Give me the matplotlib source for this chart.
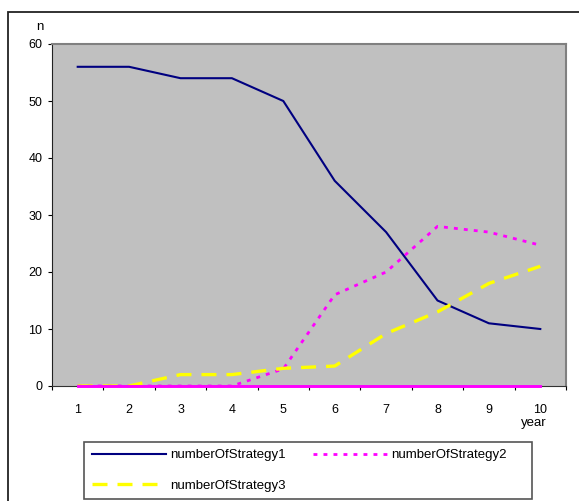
import matplotlib
matplotlib.use("Agg")
import matplotlib.pyplot as plt
from matplotlib.patches import Rectangle

plt.rcParams["font.family"] = ["Liberation Sans", "DejaVu Sans"]

years = [1, 2, 3, 4, 5, 6, 7, 8, 9, 10]
strategy1 = [56, 56, 54, 54, 50, 36, 27, 15, 11, 10]
strategy2 = [0, 0, 0, 0, 3, 16, 20, 28, 27, 24.7]
strategy3 = [0, 0, 2, 2, 3.1, 3.5, 9.2, 13, 18, 21]
strategy4 = [0, 0, 0, 0, 0, 0, 0, 0, 0, 0]
y_ticks = [0, 10, 20, 30, 40, 50, 60]

W, H = 579, 501
fig = plt.figure(figsize=(W / 100, H / 100), dpi=100)


def px_box(x0, y0, x1, y1):
    # pixel box (top-left origin) -> figure fraction [left, bottom, width, height]
    return [x0 / W, 1 - y1 / H, (x1 - x0) / W, (y1 - y0) / H]


# outer chart frame (left and top edges visible)
fig.patches.append(Rectangle((8 / W, -0.1), 1.2, 1 - 12 / H + 0.1,
                             transform=fig.transFigure, fill=False,
                             edgecolor="#222222", lw=1.3))

ax = fig.add_axes(px_box(52, 44, 566, 386))
ax.set_facecolor("#C0C0C0")

l1, = ax.plot(years, strategy1, color="#000080", lw=1.5, label="numberOfStrategy1")
l2, = ax.plot(years, strategy2, color="#FF00FF", lw=2.0, dashes=(1.4, 2.2),
              label="numberOfStrategy2")
l3, = ax.plot(years, strategy3, color="#FFFF00", lw=2.4, dashes=(4.5, 3.0),
              label="numberOfStrategy3")
ax.plot(years, strategy4, color="#FF00FF", lw=2.1, clip_on=False, zorder=4)

ax.set_xlim(0.5, 10.5)
ax.set_ylim(0, 60)
ax.set_xticks([i + 0.5 for i in range(0, 11)])
ax.set_xticklabels([])
ax.set_xticks(years, minor=True)
ax.set_xticklabels([str(y) for y in years], minor=True)
ax.tick_params(axis="x", which="major", direction="out", length=3, width=0.8)
ax.tick_params(axis="x", which="minor", length=0, pad=13, labelsize=9)
ax.set_yticks(y_ticks)
ax.tick_params(axis="y", direction="out", length=3, width=0.8, pad=4, labelsize=9)

for side in ("top", "right"):
    ax.spines[side].set_color("#808080")
    ax.spines[side].set_linewidth(1.5)
ax.spines["left"].set_color("#222222")
ax.spines["bottom"].set_color("#333333")

fig.text(40 / W, 1 - 27 / H, "n", ha="center", va="center", fontsize=9.5)
fig.text(534 / W, 1 - 423 / H, "year", ha="center", va="center", fontsize=9.5)

# legend box
fig.patches.append(Rectangle((84 / W, 1 - 499 / H), (532 - 84) / W, (499 - 442) / H,
                             transform=fig.transFigure, fill=False,
                             edgecolor="#555555", lw=1.2))
fig.legend(handles=[l1, l3, l2], labels=[h.get_label() for h in (l1, l3, l2)],
           loc="upper left", bbox_to_anchor=(88 / W, 1 - 445 / H),
           ncol=2, frameon=False, fontsize=9.5, handlelength=5.6,
           handletextpad=0.3, labelspacing=1.4, columnspacing=2.1,
           borderpad=0.3, borderaxespad=0)

fig.savefig("out.png", dpi=100)
